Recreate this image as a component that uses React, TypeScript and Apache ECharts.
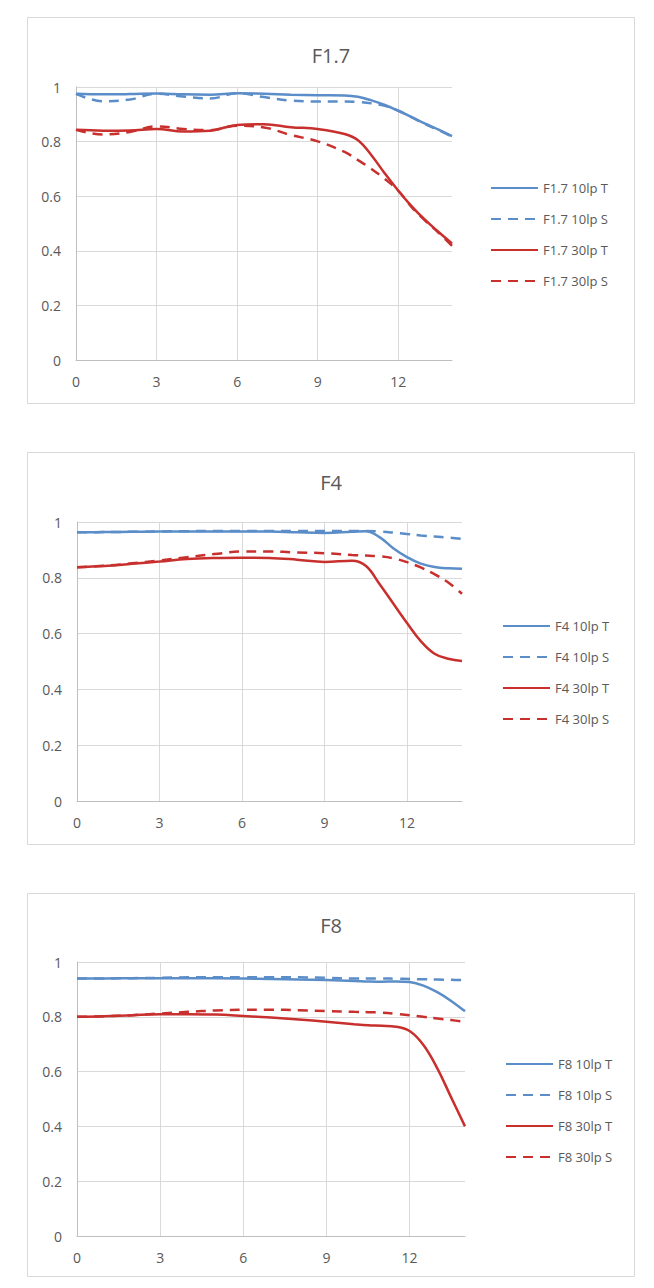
import React, { useEffect, useRef } from "react";
import * as echarts from "echarts";

// Field position (x axis) shared by all curves
const FIELD = [0, 1, 2, 3, 4, 5, 6, 7, 8, 9, 10, 10.5, 11, 11.5, 12, 12.5, 13, 13.5, 14];
const X_TICK_INTERVAL = 3;
const Y_TICK_INTERVAL = 0.2;

const TITLES = ["F1.7", "F4", "F8"];

// F1.7
const F17_NAMES = ["F1.7 10lp T", "F1.7 10lp S", "F1.7 30lp T", "F1.7 30lp S"];
const F17_10T = [0.975, 0.973, 0.974, 0.976, 0.973, 0.972, 0.977, 0.975, 0.972, 0.97, 0.969, 0.964, 0.951, 0.934, 0.913, 0.89, 0.866, 0.844, 0.82];
const F17_10S = [0.975, 0.948, 0.954, 0.975, 0.965, 0.958, 0.977, 0.963, 0.95, 0.947, 0.947, 0.945, 0.94, 0.931, 0.913, 0.889, 0.864, 0.842, 0.818];
const F17_30T = [0.843, 0.84, 0.841, 0.846, 0.837, 0.84, 0.861, 0.864, 0.853, 0.846, 0.828, 0.805, 0.75, 0.683, 0.62, 0.563, 0.513, 0.469, 0.427];
const F17_30S = [0.843, 0.826, 0.835, 0.856, 0.846, 0.842, 0.858, 0.852, 0.824, 0.801, 0.762, 0.732, 0.7, 0.663, 0.62, 0.56, 0.511, 0.466, 0.418];

// F4
const F4_NAMES = ["F4 10lp T", "F4 10lp S", "F4 30lp T", "F4 30lp S"];
const F4_10T = [0.963, 0.964, 0.965, 0.966, 0.966, 0.966, 0.966, 0.966, 0.963, 0.961, 0.965, 0.967, 0.946, 0.906, 0.874, 0.851, 0.839, 0.834, 0.832];
const F4_10S = [0.963, 0.964, 0.965, 0.966, 0.967, 0.968, 0.968, 0.968, 0.968, 0.968, 0.968, 0.968, 0.966, 0.962, 0.957, 0.952, 0.948, 0.944, 0.94];
const F4_30T = [0.838, 0.842, 0.85, 0.858, 0.867, 0.871, 0.872, 0.871, 0.865, 0.857, 0.861, 0.843, 0.778, 0.708, 0.638, 0.573, 0.528, 0.51, 0.502];
const F4_30S = [0.838, 0.843, 0.852, 0.862, 0.874, 0.885, 0.894, 0.894, 0.891, 0.888, 0.882, 0.88, 0.877, 0.87, 0.856, 0.837, 0.813, 0.783, 0.743];

// F8
const F8_NAMES = ["F8 10lp T", "F8 10lp S", "F8 30lp T", "F8 30lp S"];
const F8_10T = [0.94, 0.94, 0.941, 0.941, 0.941, 0.941, 0.94, 0.938, 0.936, 0.934, 0.931, 0.929, 0.928, 0.929, 0.927, 0.914, 0.89, 0.858, 0.82];
const F8_10S = [0.94, 0.94, 0.941, 0.942, 0.944, 0.944, 0.944, 0.944, 0.944, 0.942, 0.94, 0.94, 0.94, 0.939, 0.938, 0.937, 0.936, 0.935, 0.934];
const F8_30T = [0.8, 0.802, 0.806, 0.809, 0.809, 0.808, 0.803, 0.797, 0.79, 0.782, 0.773, 0.769, 0.767, 0.764, 0.748, 0.697, 0.612, 0.506, 0.4];
const F8_30S = [0.8, 0.802, 0.806, 0.812, 0.818, 0.823, 0.826, 0.826, 0.824, 0.821, 0.818, 0.817, 0.815, 0.811, 0.806, 0.8, 0.794, 0.788, 0.782];

const PANELS = [
  { title: TITLES[0], names: F17_NAMES, values: [F17_10T, F17_10S, F17_30T, F17_30S] },
  { title: TITLES[1], names: F4_NAMES, values: [F4_10T, F4_10S, F4_30T, F4_30S] },
  { title: TITLES[2], names: F8_NAMES, values: [F8_10T, F8_10S, F8_30T, F8_30S] },
];

// Layout (pixels)
const LAYOUT = [
  { box: [27.5, 17.5, 607, 386], grid: { left: 76, top: 87, width: 376, height: 273 }, titleY: 57, legend: { left: 490, top: 181 } },
  { box: [27.5, 452.5, 607, 392], grid: { left: 77, top: 522, width: 385, height: 279 }, titleY: 484, legend: { left: 502, top: 619 } },
  { box: [27.5, 893.5, 607, 383], grid: { left: 77, top: 962, width: 388, height: 274 }, titleY: 927, legend: { left: 505, top: 1057 } },
];

const BLUE = "#5B8DC8";
const RED = "#C8302E";
const TEXT = "#595959";
const GRID_LINE = "#D9D9D9";
const AXIS_LINE = "#BFBFBF";
const FONT = '"Open Sans", sans-serif';

export default function App() {
  const ref = useRef<HTMLDivElement>(null);

  useEffect(() => {
    document.body.style.margin = "0";
    document.documentElement.style.overflow = "hidden";
    if (!ref.current) return;
    const chart = echarts.init(ref.current, null, { renderer: "svg" });

    const grids: any[] = [];
    const xAxes: any[] = [];
    const yAxes: any[] = [];
    const titles: any[] = [];
    const legends: any[] = [];
    const series: any[] = [];
    const graphics: any[] = [];

    PANELS.forEach((p, i) => {
      const L = LAYOUT[i];
      grids.push({ ...L.grid, containLabel: false });
      xAxes.push({
        type: "value",
        gridIndex: i,
        min: 0,
        max: 14,
        interval: X_TICK_INTERVAL,
        axisLine: { show: true, lineStyle: { color: AXIS_LINE, width: 1 } },
        axisTick: { show: false },
        axisLabel: { color: TEXT, fontSize: 14, fontFamily: FONT, margin: 14, showMaxLabel: false },
        splitLine: { show: true, showMaxLine: false, lineStyle: { color: GRID_LINE, width: 1 } },
      });
      yAxes.push({
        type: "value",
        gridIndex: i,
        min: 0,
        max: 1,
        interval: Y_TICK_INTERVAL,
        axisLine: { show: true, lineStyle: { color: AXIS_LINE, width: 1 } },
        axisTick: { show: false },
        axisLabel: { color: TEXT, fontSize: 14, fontFamily: FONT, margin: 15 },
        splitLine: { show: true, lineStyle: { color: GRID_LINE, width: 1 } },
      });
      titles.push({
        text: p.title,
        left: 326,
        top: L.titleY - 17,
        textAlign: "center",
        textStyle: { color: TEXT, fontSize: 20, fontWeight: "normal", fontFamily: FONT },
      });
      legends.push({
        data: p.names,
        orient: "vertical",
        left: L.legend.left,
        top: L.legend.top,
        padding: 0,
        itemWidth: 47,
        itemHeight: 14,
        itemGap: 17,
        itemStyle: { opacity: 0 },
        textStyle: { color: TEXT, fontSize: 13, fontFamily: FONT, lineHeight: 14 },
      });
      graphics.push({
        type: "rect",
        shape: { x: L.box[0], y: L.box[1], width: L.box[2], height: L.box[3] },
        style: { fill: "none", stroke: GRID_LINE, lineWidth: 1 },
        silent: true,
      });
      p.names.forEach((name, k) => {
        const color = k < 2 ? BLUE : RED;
        const dashed = k % 2 === 1;
        series.push({
          type: "line",
          name,
          xAxisIndex: i,
          yAxisIndex: i,
          data: FIELD.map((x, j) => [x, p.values[k][j]]),
          smooth: 0.4,
          symbol: "none",
          color,
          lineStyle: { color, width: 2.5, type: dashed ? [10, 7] : "solid" },
        });
      });
    });

    chart.setOption({
      animation: false,
      backgroundColor: "#ffffff",
      title: titles,
      legend: legends,
      grid: grids,
      xAxis: xAxes,
      yAxis: yAxes,
      series,
      graphic: graphics,
    });

    return () => chart.dispose();
  }, []);

  return <div ref={ref} style={{ width: 654, height: 1288 }} />;
}
